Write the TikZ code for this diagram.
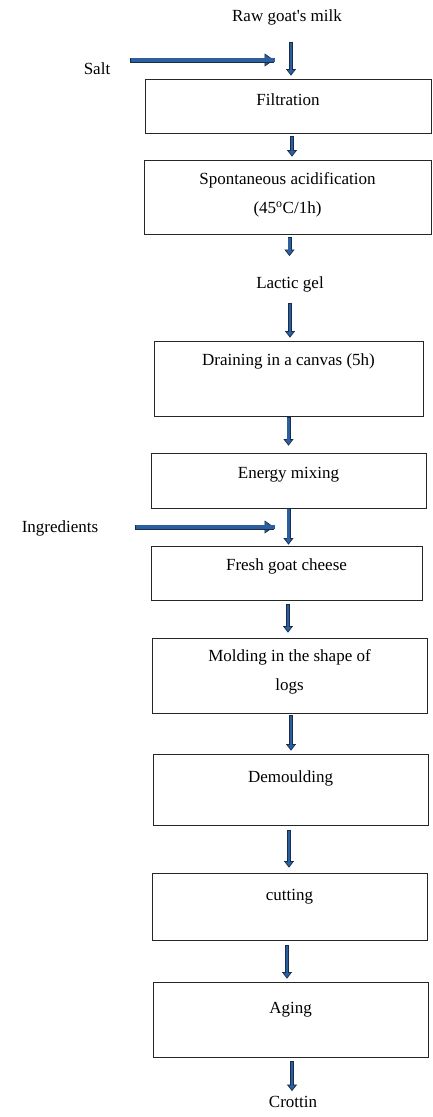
\documentclass[tikz,border=0pt]{standalone}
\usepackage{fontspec}
\setmainfont{Liberation Serif}
\usetikzlibrary{arrows.meta,positioning}

\definecolor{arrowblue}{RGB}{43,96,160}
\definecolor{arrowline}{RGB}{25,45,75}

\tikzset{
	stepbox/.style={draw=black!85, line width=0.8pt, inner sep=0pt},
	steptext/.style={inner sep=0pt, align=center, font=\fontsize{17}{29}\selectfont},
	flowarrow/.style 2 args={draw=arrowline, line width=4pt, shorten <=#1, shorten >=#2+6pt,
		preaction={draw=arrowline, line width=0.7pt, shorten <=#1, shorten >=#2,
			-{Triangle[fill=arrowblue, length=6.5pt, width=10pt]}},
		postaction={draw=arrowblue, line width=2.4pt, shorten <=#1+0.8pt, shorten >=#2+5pt}},
	inarrow/.style={draw=arrowline, line width=5pt, shorten <=#1, shorten >=9pt,
		preaction={draw=arrowline, line width=0.7pt, shorten <=#1,
			-{Triangle[fill=arrowblue, length=9.5pt, width=13pt]}},
		postaction={draw=arrowblue, line width=3.2pt, shorten <=#1+0.9pt, shorten >=8pt}},
}

\begin{document}
\begin{tikzpicture}[x=1pt, y=-1pt]
	\useasboundingbox[fill=white] (0,0) rectangle (432,1117);

	% texts outside the boxes
	\node[steptext] (milk) at (287,17) {Raw goat\textquotesingle s milk};
	\node[steptext] (salt) at (97,69) {Salt};
	\node[steptext] (lactic) at (290,284) {Lactic gel};
	\node[steptext] (ingr) at (60,528) {Ingredients};
	\node[steptext] (crottin) at (293,1102) {Crottin};

	% process steps
	\node[stepbox, minimum width=286pt, minimum height=54pt] (filt) at (288,106) {};
	\node[steptext] (filt-t) at ([yshift=-21pt]filt.north) {Filtration};
	\node[stepbox, minimum width=287pt, minimum height=74pt] (spont) at (287.5,197) {};
	\node[steptext] (spont-t) at ([yshift=-35pt]spont.north) {Spontaneous acidification\\(45\textsuperscript{o}C/1h)};
	\node[stepbox, minimum width=269pt, minimum height=75pt] (drain) at (288.5,378.5) {};
	\node[steptext] (drain-t) at ([yshift=-21pt]drain.north) {Draining in a canvas (5h)};
	\node[stepbox, minimum width=275pt, minimum height=55pt] (energy) at (288.5,480.5) {};
	\node[steptext] (energy-t) at ([yshift=-22pt]energy.north) {Energy mixing};
	\node[stepbox, minimum width=271pt, minimum height=54pt] (fresh) at (286.5,573) {};
	\node[steptext] (fresh-t) at ([yshift=-21pt]fresh.north) {Fresh goat cheese};
	\node[stepbox, minimum width=275pt, minimum height=75pt] (mold) at (289.5,675.5) {};
	\node[steptext] (mold-t) at ([yshift=-34.5pt]mold.north) {Molding in the shape of\\logs};
	\node[stepbox, minimum width=275pt, minimum height=71pt] (demould) at (290.5,789.5) {};
	\node[steptext] (demould-t) at ([yshift=-25pt]demould.north) {Demoulding};
	\node[stepbox, minimum width=275pt, minimum height=67pt] (cut) at (289.5,906.5) {};
	\node[steptext] (cut-t) at ([yshift=-24pt]cut.north) {cutting};
	\node[stepbox, minimum width=275pt, minimum height=75pt] (aging) at (290.5,1019.5) {};
	\node[steptext] (aging-t) at ([yshift=-28pt]aging.north) {Aging};

	% inputs from the side
	\coordinate (salt-in) at (283,60);
	\coordinate (ingr-in) at (283,527);
	\draw[inarrow=20pt] (salt.east |- salt-in) -- (salt-in);
	\draw[inarrow=37pt] (ingr.east |- ingr-in) -- (ingr-in);

	% main flow
	\draw[flowarrow={17pt}{3pt}] ([xshift=4pt]milk.south) -- ([xshift=4pt]milk.south |- filt.north);
	\draw[flowarrow={3pt}{3pt}] ([xshift=4pt]filt.south) -- ([xshift=4pt]filt.south |- spont.north);
	\draw[flowarrow={3pt}{20pt}] ([xshift=2pt]spont.south) -- ([xshift=2pt]spont.south |- lactic.north);
	\draw[flowarrow={11pt}{3pt}] (lactic.south) -- (lactic.south |- drain.north);
	\draw[flowarrow={1pt}{7pt}] (drain.south) -- (drain.south |- energy.north);
	\draw[flowarrow={0pt}{1pt}] (energy.south) -- (energy.south |- fresh.north);
	\draw[flowarrow={4pt}{5pt}] ([xshift=1.5pt]fresh.south) -- ([xshift=1.5pt]fresh.south |- mold.north);
	\draw[flowarrow={2pt}{3pt}] ([xshift=1.5pt]mold.south) -- ([xshift=1.5pt]mold.south |- demould.north);
	\draw[flowarrow={5pt}{5pt}] ([xshift=-1.5pt]demould.south) -- ([xshift=-1.5pt]demould.south |- cut.north);
	\draw[flowarrow={5pt}{3pt}] ([xshift=-2.5pt]cut.south) -- ([xshift=-2.5pt]cut.south |- aging.north);
	\draw[flowarrow={4pt}{5pt}] ([xshift=1.5pt]aging.south) -- ([xshift=1.5pt]aging.south |- crottin.north);
\end{tikzpicture}
\end{document}
